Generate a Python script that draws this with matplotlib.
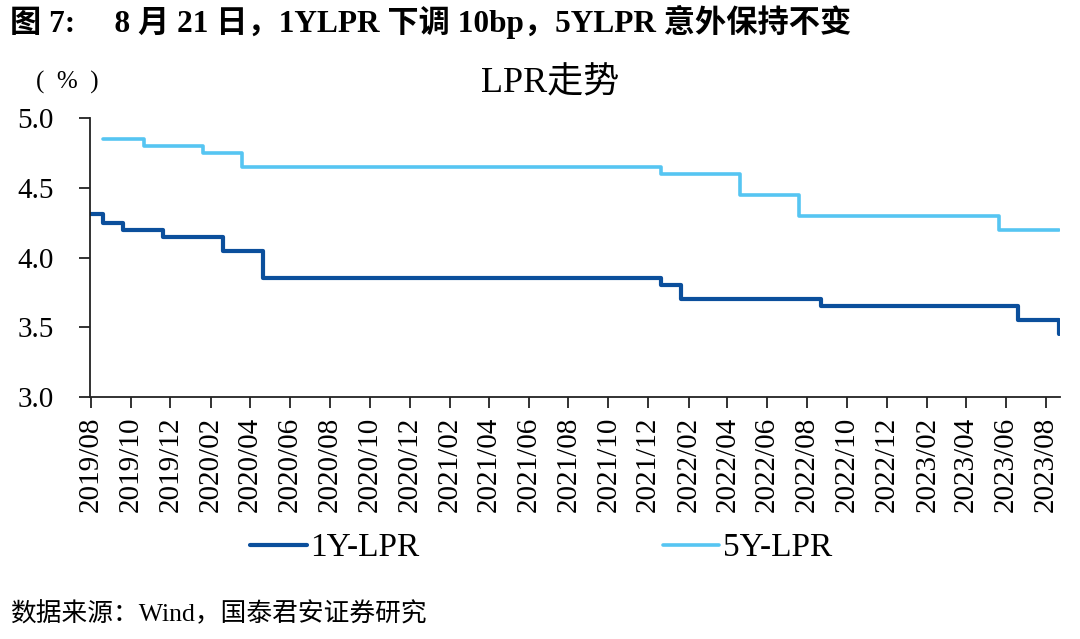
import matplotlib
matplotlib.use("Agg")
import matplotlib.pyplot as plt
import matplotlib.dates as mdates
import pandas as pd

plt.rcParams['font.family'] = ['Liberation Serif', 'Noto Sans CJK SC']
plt.rcParams['axes.unicode_minus'] = False

# 1Y LPR: dates where the rate changes (last entry = end of series)
dates_1y = ['2019-08-01', '2019-08-20', '2019-09-20', '2019-11-20', '2020-02-20',
            '2020-04-20', '2021-12-20', '2022-01-20', '2022-08-22', '2023-06-20',
            '2023-08-21']
rates_1y = [4.31, 4.25, 4.20, 4.15, 4.05, 3.85, 3.80, 3.70, 3.65, 3.55, 3.45]

# 5Y LPR as drawn in the source chart
dates_5y = ['2019-08-20', '2019-10-21', '2020-01-20', '2020-03-20', '2021-12-20',
            '2022-04-20', '2022-07-20', '2023-05-22', '2023-08-21']
rates_5y = [4.85, 4.80, 4.75, 4.65, 4.60, 4.45, 4.30, 4.20, 4.20]

tick_dates = pd.date_range('2019-08-01', '2023-08-01', freq='2MS')

title = '图 7:     8 月 21 日，1YLPR 下调 10bp，5YLPR 意外保持不变'
source = '数据来源：Wind，国泰君安证券研究'

fig = plt.figure(figsize=(10.8, 6.39), dpi=100)
ax = fig.add_axes([90 / 1080, 1 - 397 / 639, 970 / 1080, 279 / 639])

ax.plot(pd.to_datetime(dates_1y), rates_1y, drawstyle='steps-post',
        color='#0B4F9C', lw=3.0, label='1Y-LPR', solid_capstyle='round')
ax.plot(pd.to_datetime(dates_5y), rates_5y, drawstyle='steps-post',
        color='#56C5F2', lw=2.6, label='5Y-LPR', solid_capstyle='round')

ax.set_ylim(3.0, 5.0)
ax.set_yticks([3.0, 3.5, 4.0, 4.5, 5.0])
ax.yaxis.set_major_formatter(matplotlib.ticker.FormatStrFormatter('%.1f'))
ax.set_xlim(pd.Timestamp('2019-07-31'), pd.Timestamp('2023-08-23'))
ax.set_xticks(tick_dates)
ax.xaxis.set_major_formatter(mdates.DateFormatter('%Y/%m'))

for s in ['top', 'right']:
    ax.spines[s].set_visible(False)
for s in ['left', 'bottom']:
    ax.spines[s].set_color('#222222')
    ax.spines[s].set_linewidth(1.3)

ax.tick_params(axis='y', direction='out', length=8, width=1.3, pad=18,
               labelsize=21, color='#222222')
ax.tick_params(axis='x', direction='out', length=8, width=1.3, pad=6,
               labelsize=21, color='#222222', labelrotation=90)

fig.text(550 / 1080, 1 - 84 / 639, 'LPR走势', fontsize=26, ha='center', va='center')
fig.text(67 / 1080, 1 - 82 / 639, '(  %  )', fontsize=18, ha='center', va='center')
fig.text(10 / 1080, 1 - 22 / 639, title, fontsize=22.5, fontweight='bold',
         ha='left', va='center')
fig.text(10 / 1080, 1 - 614 / 639, source, fontsize=18.5, ha='left', va='center')

fig.legend(loc='center', bbox_to_anchor=(541 / 1080, 1 - 548 / 639), ncol=2,
           frameon=False, fontsize=24, handlelength=1.7, handletextpad=0.1,
           columnspacing=7.3)

fig.savefig('out.png', dpi=100)
